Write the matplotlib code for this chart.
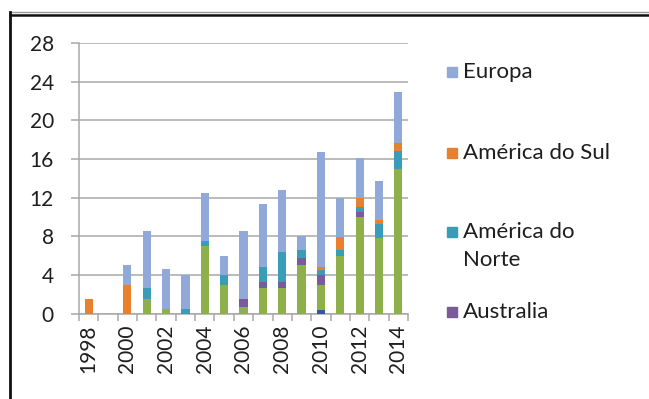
import numpy as np
import matplotlib.pyplot as plt
from matplotlib.patches import Rectangle
from matplotlib.lines import Line2D

plt.rcParams['font.family'] = ['Lato', 'DejaVu Sans']

anos = list(range(1998, 2015))
# series, from the bottom of each stack up
africa    = [0, 0, 0, 0,   0,   0,   0, 0, 0,   0,   0,   0,    0.4,  0,   0,   0,    0]
asia      = [0, 0, 0, 1.5, 0.5, 0,   7, 3, 0.7, 2.6, 2.6, 5,    2.6,  6,   10,  7.8,  15]
australia = [0, 0, 0, 0,   0,   0,   0, 0, 0.8, 0.7, 0.7, 0.75, 1.0,  0,   0.5, 0,    0]
am_norte  = [0, 0, 0, 1.1, 0,   0.5, 0.5, 1, 0, 1.5, 3.1, 0.85, 0.55, 0.6, 0.5, 1.5,  1.8]
am_sul    = [1.5, 0, 3, 0, 0,   0,   0, 0, 0,   0,   0,   0,    0.3,  1.3, 1.0, 0.35, 0.9]
europa    = [0, 0, 2, 5.9, 4.1, 3.5, 5, 2, 7,   6.5, 6.4, 1.4,  11.85, 4.1, 4.1, 4.05, 5.2]

series = [africa, asia, australia, am_norte, am_sul, europa]
cores = ['#2F5C98', '#8DB04A', '#7A5A99', '#3A9DB8', '#E8802E', '#90A9D8']

legenda_nomes = ['Europa', 'América do Sul', 'América do\nNorte', 'Australia']
legenda_cores = ['#90A9D8', '#E8802E', '#3A9DB8', '#7A5A99']

W, H = 649, 399
fig = plt.figure(figsize=(W / 100, H / 100), dpi=100)
ax = fig.add_axes([79 / W, 1 - 313.5 / H, 329 / W, 270.5 / H])

x = np.arange(len(anos))
base = np.zeros(len(anos))
for s, c in zip(series, cores):
    ax.bar(x, s, bottom=base, width=0.42, color=c, zorder=3)
    base = base + np.array(s)

ax.set_xlim(-0.5, len(anos) - 0.5)
ax.set_ylim(0, 28)
ax.set_yticks(np.arange(0, 29, 4))
ax.grid(axis='y', color='#A8A8A8', lw=1.1, zorder=0)

# category ticks on the boundaries, labels every other year
ax.set_xticks(np.arange(-0.5, len(anos), 1))
ax.set_xticklabels([])
ax.set_xticks(x[::2], minor=True)
ax.set_xticklabels([str(a) for a in anos[::2]], minor=True, rotation=90)
ax.tick_params(axis='x', which='major', length=5, color='#A8A8A8', width=1.1)
ax.tick_params(axis='x', which='minor', length=0, pad=8, labelsize=15, labelcolor='#1E1E1E')
ax.tick_params(axis='y', length=6, color='#A8A8A8', width=1.1, pad=12,
               labelsize=15, labelcolor='#1E1E1E')

for sp in ['top', 'right']:
    ax.spines[sp].set_visible(False)
for sp in ['left', 'bottom']:
    ax.spines[sp].set_color('#A8A8A8')
    ax.spines[sp].set_linewidth(1.1)

# legend drawn by hand (entries are evenly spaced by their top line)
tops = [72, 153, 232, 312]
for nome, c, yy in zip(legenda_nomes, legenda_cores, tops):
    fig.patches.append(Rectangle((447 / W, 1 - (yy + 5) / H), 10 / W, 10 / H,
                                 transform=fig.transFigure, color=c))
    fig.text(463 / W, 1 - (yy - 10) / H, nome, ha='left', va='top',
             fontsize=16, color='#1E1E1E', linespacing=1.5)

# frame lines of the screenshot
fig.add_artist(Line2D([9.5 / W, 1], [1 - 12 / H, 1 - 12 / H], color='#9A9A9A', lw=1))
fig.add_artist(Line2D([9.5 / W, 1], [1 - 15 / H, 1 - 15 / H], color='#111111', lw=1.8))
fig.add_artist(Line2D([9.5 / W, 9.5 / W], [0, 1 - 12 / H], color='#111111', lw=2))

fig.savefig('out.png', dpi=100)
